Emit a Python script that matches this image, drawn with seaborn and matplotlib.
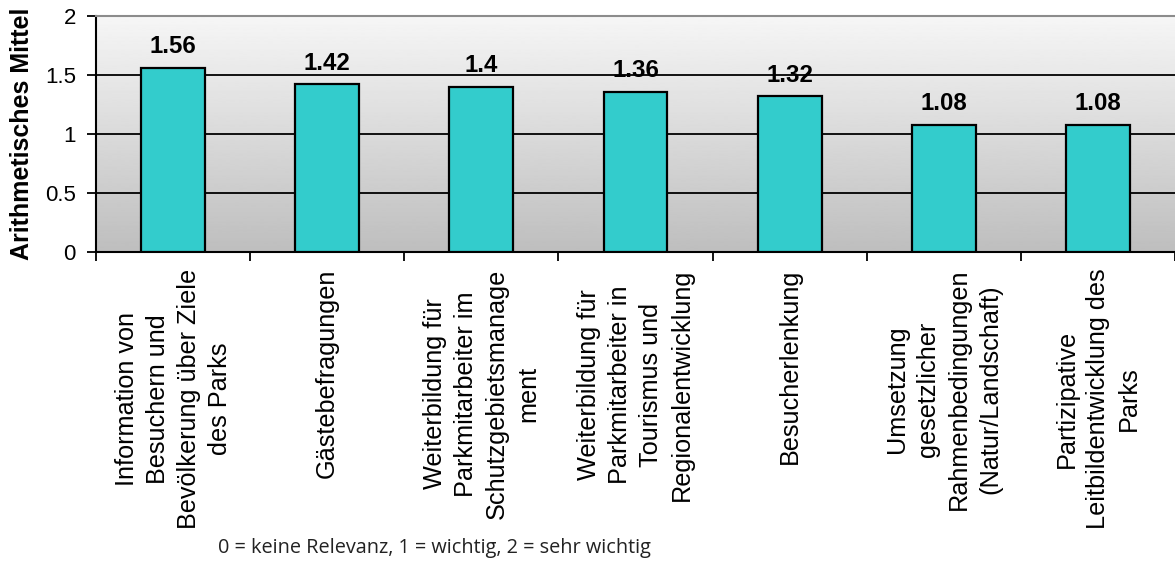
import numpy as np
import matplotlib
matplotlib.use("Agg")
import matplotlib.pyplot as plt
import seaborn as sns

# Measures and their mean relevance ratings
categories = [
    "Information von\nBesuchern und\nBevölkerung über Ziele\ndes Parks",
    "Gästebefragungen",
    "Weiterbildung für\nParkmitarbeiter im\nSchutzgebietsmanage\nment",
    "Weiterbildung für\nParkmitarbeiter in\nTourismus und\nRegionalentwicklung",
    "Besucherlenkung",
    "Umsetzung\ngesetzlicher\nRahmenbedingungen\n(Natur/Landschaft)",
    "Partizipative\nLeitbildentwicklung des\nParks",
]
means = [1.56, 1.42, 1.4, 1.36, 1.32, 1.08, 1.08]
y_ticks = [0, 0.5, 1, 1.5, 2]
y_label = "Arithmetisches Mittel"
footnote = "0 = keine Relevanz, 1 = wichtig, 2 = sehr wichtig"

sns.set_theme(style="white")
plt.rcParams["font.family"] = ["Liberation Sans", "DejaVu Sans"]
plt.rcParams["text.color"] = "black"
plt.rcParams["axes.labelcolor"] = "black"
plt.rcParams["xtick.color"] = "black"
plt.rcParams["ytick.color"] = "black"

fig = plt.figure(figsize=(11.75, 5.63), dpi=100)
ax = fig.add_axes([96 / 1175, 1 - 252 / 563, 1 - 96 / 1175, (252 - 16) / 563])

# Vertical grey gradient behind the plot area
grad = np.linspace(0.965, 0.745, 256).reshape(-1, 1)
ax.imshow(grad, cmap="gray", vmin=0, vmax=1, aspect="auto",
          extent=[0, 1, 0, 1], transform=ax.transAxes, zorder=0,
          interpolation="bilinear")

sns.barplot(x=list(range(len(categories))), y=means, color="#33CCCC",
            edgecolor="black", linewidth=1.6, width=0.415, saturation=1,
            ax=ax, zorder=3)
for p in ax.patches:
    p.set_zorder(3)

ax.set_xlim(-0.5, len(categories) - 0.5)
ax.set_ylim(0, 2)

for yv in y_ticks[1:-1]:
    ax.axhline(yv, color="black", linewidth=1.3, zorder=1)

ax.bar_label(ax.containers[0], labels=[f"{v:g}" for v in means],
             padding=7, fontsize=17.3, fontweight="bold", color="black")

ax.set_yticks(y_ticks)
ax.set_yticklabels([f"{v:g}" for v in y_ticks], fontsize=16, color="black")
ax.set_xticks(range(len(categories)))
ax.set_xticklabels(categories, rotation=90, fontsize=18.2, va="top",
                   ha="center", multialignment="center", linespacing=1.37,
                   color="black")
ax.set_xticks(np.arange(-0.5, len(categories) - 0.4, 1), minor=True)
ax.tick_params(axis="x", which="major", length=0, pad=12)
ax.tick_params(axis="x", which="minor", length=6.5, width=1.3,
               direction="out", color="black", bottom=True)
ax.tick_params(axis="y", length=6.5, width=1.3, direction="out",
               color="black", left=True, pad=8)

ax.set_xlabel("")
ax.set_ylabel(y_label, fontsize=18, fontweight="bold", color="black")
ax.yaxis.set_label_coords(-62 / 1079, 0.5)

for side in ["left", "bottom"]:
    ax.spines[side].set_color("black")
    ax.spines[side].set_linewidth(1.5)
ax.spines["top"].set_color("#8c8c8c")
ax.spines["top"].set_linewidth(1.5)
ax.spines["right"].set_visible(False)

fig.text(218 / 1175, 1 - 548 / 563, footnote, fontsize=14.3,
         family=["Open Sans", "DejaVu Sans"], color="#222222",
         ha="left", va="center")

fig.savefig("out.png", dpi=100)
